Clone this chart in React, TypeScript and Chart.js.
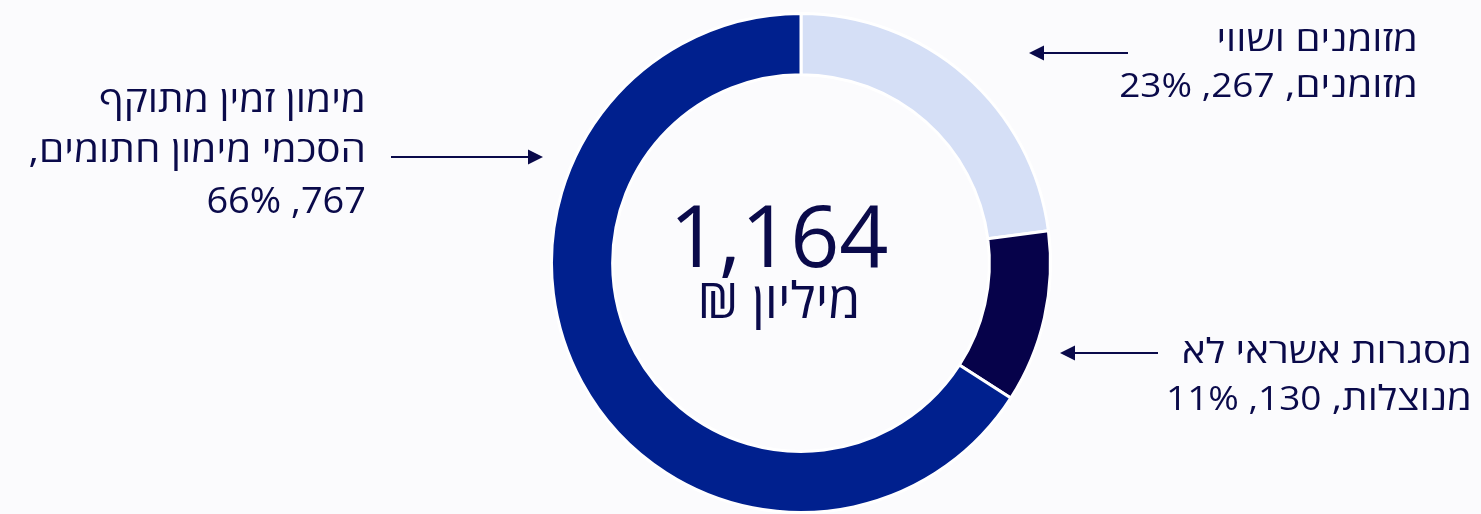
import React, { useEffect, useRef } from "react";
import { Chart, registerables } from "chart.js";

Chart.register(...registerables);

const categories = ["מזומנים ושווי מזומנים", "מסגרות אשראי לא מנוצלות", "מימון זמין מתוקף הסכמי מימון חתומים"];
const values = [267, 130, 767];
const percents = [23, 11, 66];
const colors = ["#D5DFF6", "#06024A", "#00208E"];
const totalLabel = "1,164";
const unitLabel = "מיליון ₪";

const W = 1481;
const H = 514;
const INK = "#0A0A4A";
const FONT = "'Open Sans', 'DejaVu Sans', sans-serif";

type Piece = { t: string; k: string };
const STY: Record<string, { size: number; sx: number }> = {
  rh: { size: 34, sx: 1.18 },
  rn: { size: 33, sx: 1.12 },
  lh: { size: 36, sx: 1.125 },
  ln: { size: 36.5, sx: 1.04 },
};

const numText = (i: number) => `${values[i]}, ${percents[i]}%`;

const labelTR: Piece[][] = [
  [{ t: "מזומנים ושווי", k: "rh" }],
  [{ t: "מזומנים, ", k: "rh" }, { t: numText(0), k: "rn" }],
];
const labelBR: Piece[][] = [
  [{ t: "מסגרות אשראי לא", k: "rh" }],
  [{ t: "מנוצלות, ", k: "rh" }, { t: numText(1), k: "rn" }],
];
const labelL: Piece[][] = [
  [{ t: "מימון זמין מתוקף", k: "lh" }],
  [{ t: "הסכמי מימון חתומים,", k: "lh" }],
  [{ t: numText(2), k: "ln" }],
];

function arrow(ctx: CanvasRenderingContext2D, x1: number, x2: number, y: number) {
  const dir = x2 > x1 ? 1 : -1;
  const head = 15;
  const half = 7.5;
  ctx.save();
  ctx.strokeStyle = INK;
  ctx.fillStyle = INK;
  ctx.lineWidth = 2;
  ctx.beginPath();
  ctx.moveTo(x1, y);
  ctx.lineTo(x2 - dir * head, y);
  ctx.stroke();
  ctx.beginPath();
  ctx.moveTo(x2, y);
  ctx.lineTo(x2 - dir * head, y - half);
  ctx.lineTo(x2 - dir * head, y + half);
  ctx.closePath();
  ctx.fill();
  ctx.restore();
}

function drawLine(ctx: CanvasRenderingContext2D, pieces: Piece[], xRight: number, y: number) {
  let x = xRight;
  for (const p of pieces) {
    const st = STY[p.k];
    ctx.save();
    ctx.font = `400 ${st.size}px ${FONT}`;
    ctx.direction = "rtl";
    ctx.textAlign = "right";
    ctx.textBaseline = "alphabetic";
    ctx.fillStyle = INK;
    const w = ctx.measureText(p.t).width * st.sx;
    ctx.translate(x, y);
    ctx.scale(st.sx, 1);
    ctx.fillText(p.t, 0, 0);
    ctx.restore();
    x -= w;
  }
}

function drawBlock(ctx: CanvasRenderingContext2D, lines: Piece[][], xRight: number, baselines: number[]) {
  lines.forEach((l, i) => drawLine(ctx, l, xRight, baselines[i]));
}

const overlay = {
  id: "overlay",
  beforeDraw(chart: any) {
    const ctx = chart.ctx as CanvasRenderingContext2D;
    ctx.save();
    ctx.fillStyle = "#FBFBFD";
    ctx.fillRect(0, 0, W, H);
    ctx.restore();
  },
  afterDraw(chart: any) {
    const ctx = chart.ctx as CanvasRenderingContext2D;
    ctx.save();
    ctx.fillStyle = INK;
    ctx.textAlign = "center";
    ctx.textBaseline = "alphabetic";
    ctx.font = `400 86px ${FONT}`;
    ctx.fillText(totalLabel, 779, 267);
    ctx.translate(779, 318);
    ctx.scale(1.04, 1);
    ctx.direction = "rtl";
    ctx.font = `400 50px ${FONT}`;
    ctx.fillText(unitLabel, 0, 0);
    ctx.restore();

    drawBlock(ctx, labelTR, 1418, [51, 96.5]);
    drawBlock(ctx, labelBR, 1472, [363, 409.5]);
    drawBlock(ctx, labelL, 366, [111.5, 162, 213]);

    arrow(ctx, 1128, 1029, 53);
    arrow(ctx, 1158, 1060, 353);
    arrow(ctx, 391, 543, 157);
  },
};

export default function App() {
  const ref = useRef<HTMLCanvasElement>(null);
  useEffect(() => {
    if (!ref.current) return;
    const chart = new Chart(ref.current, {
      type: "doughnut",
      data: {
        labels: categories,
        datasets: [
          {
            data: values,
            backgroundColor: colors,
            borderColor: "#FFFFFF",
            borderWidth: 3,
            hoverOffset: 0,
          },
        ],
      },
      options: {
        responsive: false,
        animation: false,
        cutout: "75.5%",
        rotation: 0,
        layout: { padding: { left: 550, right: 429, top: 12, bottom: 0 } },
        plugins: { legend: { display: false }, tooltip: { enabled: false } },
        events: [],
      },
      plugins: [overlay],
    });
    return () => chart.destroy();
  }, []);
  return (
    <div style={{ position: "absolute", left: 0, top: 0, width: W, height: H, overflow: "hidden" }}>
      <canvas ref={ref} width={W} height={H} style={{ display: "block", width: W, height: H }} />
    </div>
  );
}
